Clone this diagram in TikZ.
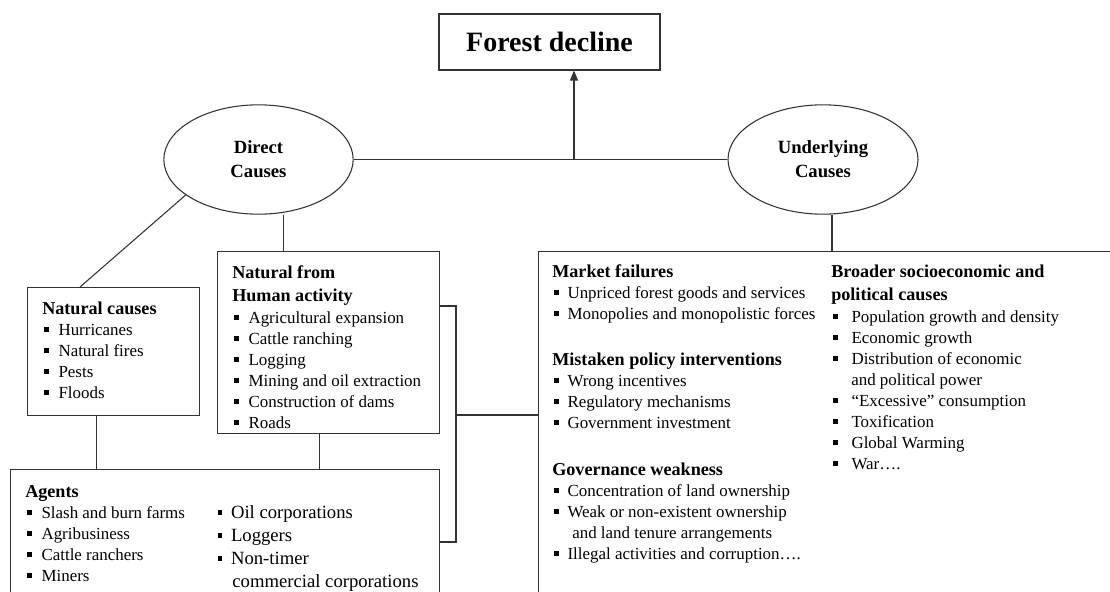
\documentclass[tikz,border=0pt]{standalone}
\usepackage{fontspec}
\setmainfont{Liberation Serif}
\usetikzlibrary{arrows.meta,shapes.geometric}
\def\sqb{\rule[2.6pt]{3.2pt}{3.2pt}}
\newcommand{\itm}[1][7.5pt]{\hspace{1.5pt}\sqb\hspace{#1}}
\newcommand{\hd}[1]{{\fontsize{13.6}{15.75}\selectfont\bfseries #1}}
\tikzset{
	link/.style={draw=black!80, line width=0.8pt},
	box/.style={link, rectangle, inner sep=0pt, anchor=north west},
	cause/.style={link, ellipse, inner sep=0pt, minimum width=142pt, minimum height=82pt, align=center, font=\fontsize{14}{18}\selectfont\bfseries},
	list/.style={inner sep=0pt, anchor=base west, font=\fontsize{12.7}{15.75}\selectfont},
}

\begin{document}
\begin{tikzpicture}[x=0.75pt, y=-0.75pt]
		%%%%% START %%%%%
		\useasboundingbox (0,0) rectangle (1110,592);
		\clip (0,0) rectangle (1110,592);
		
		\node[link, inner sep=0pt, minimum width=165.75pt, minimum height=42pt, font=\fontsize{21}{24}\selectfont\bfseries] (decline) at (549.5,42) {Forest decline};
		
		\node[cause] (direct) at (258.5,159.5) {Direct\\Causes};
		\node[cause, minimum width=142.5pt] (underlying) at (823,159.5) {Underlying\\Causes};
		
		\node[box, minimum width=129pt, minimum height=96pt] (natural) at (27,287) {};
		\node[box, minimum width=166.5pt, minimum height=136.5pt] (human) at (217,251) {};
		\node[box, minimum width=321.75pt, minimum height=105pt] (agents) at (10,469) {};
		\node[box, minimum width=435pt, minimum height=270pt] (broad) at (538,251) {};
		
		% connectors
		\draw[link] (direct.east) -- (underlying.west);
		\coordinate (join) at (574,159.5);
		\draw[link, -{Triangle[width=6pt,length=7.5pt]}] (join) -- (join |- decline.south);
		\draw[link] (direct.206) -- ([xshift=39.75pt]natural.north west);
		\draw[link] ([xshift=19pt]direct.south) -- ([xshift=19pt]direct.south |- human.north);
		\draw[link] ([xshift=6.75pt]underlying.south) -- ([xshift=6.75pt]underlying.south |- broad.north);
		\draw[link] ([xshift=-12.75pt]natural.south) -- ([xshift=-12.75pt]natural.south |- agents.north);
		\draw[link] ([xshift=-6.75pt]human.south) -- ([xshift=-6.75pt]human.south |- agents.north);
		\coordinate (brace) at (456,415);
		\draw[link] ([yshift=-41.25pt]human.north east) -| (brace) |- ([yshift=-54.75pt]agents.north east);
		\draw[link] (brace) -- (brace -| broad.west);
		
		% texts
		\node[list] (naturaltxt) at (42,314) {\begin{tabular}[t]{@{}l@{}}
			\hd{Natural causes}\\
			\itm Hurricanes\\
			\itm Natural fires\\
			\itm Pests\\
			\itm Floods
		\end{tabular}};
		
		\node[list] (humantxt) at (232,278) {\begin{tabular}[t]{@{}l@{}}
			\hd{Natural from}\\[1.5pt]
			\hd{Human activity}\\[0.75pt]
			\itm Agricultural expansion\\
			\itm Cattle ranching\\
			\itm Logging\\
			\itm Mining and oil extraction\\
			\itm Construction of dams\\
			\itm Roads
		\end{tabular}};
		
		\node[list] (agentstxt) at (25,497) {\begin{tabular}[t]{@{}l@{}}
			\hd{Agents}\\
			\itm Slash and burn farms\\
			\itm Agribusiness\\
			\itm Cattle ranchers\\
			\itm Miners
		\end{tabular}};
		\node[list, font=\fontsize{14}{17.25}\selectfont] (agentsmore) at (215.5,518) {\begin{tabular}[t]{@{}l@{}}
			\itm[6.75pt]Oil corporations\\
			\itm[6.75pt]Loggers\\
			\itm[6.75pt]Non-timer\\
			\hspace{12.5pt}commercial corporations
		\end{tabular}};
		
		\node[list] (markettxt) at (552,277) {\begin{tabular}[t]{@{}l@{}}
			\hd{Market failures}\\
			\itm[6.75pt]Unpriced forest goods and services\\
			\itm[6.75pt]Monopolies and monopolistic forces
		\end{tabular}};
		\node[list] (policytxt) at (552,365) {\begin{tabular}[t]{@{}l@{}}
			\hd{Mistaken policy interventions}\\
			\itm[6.75pt]Wrong incentives\\
			\itm[6.75pt]Regulatory mechanisms\\
			\itm[6.75pt]Government investment
		\end{tabular}};
		\node[list] (governtxt) at (552,475) {\begin{tabular}[t]{@{}l@{}}
			\hd{Governance weakness}\\
			\itm[6.75pt]Concentration of land ownership\\
			\itm[6.75pt]Weak or non-existent ownership\\
			\hspace{15pt}and land tenure arrangements\\
			\itm[6.75pt]Illegal activities and corruption….
		\end{tabular}};
		
		\node[list] (broadtxt) at (831,277) {\begin{tabular}[t]{@{}l@{}}
			\hd{Broader socioeconomic and}\\[1.5pt]
			\hd{political causes}\\[0.75pt]
			\itm[10.5pt]Population growth and density\\
			\itm[10.5pt]Economic growth\\
			\itm[10.5pt]Distribution of economic\\
			\hspace{15pt}and political power\\
			\itm[10.5pt]“Excessive” consumption\\
			\itm[10.5pt]Toxification\\
			\itm[10.5pt]Global Warming\\
			\itm[10.5pt]War….
		\end{tabular}};
		
		%%%%% END %%%%%
\end{tikzpicture}
\end{document}
